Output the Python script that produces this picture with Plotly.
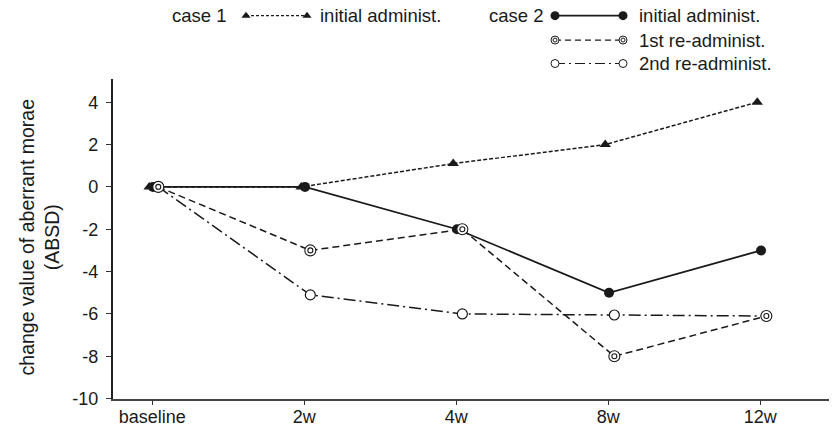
import plotly.graph_objects as go

# ---- data ----
categories = ["baseline", "2w", "4w", "8w", "12w"]
case1_initial = [0, 0, 1.1, 2, 4]
case2_initial = [0, 0, -2, -5, -3]
case2_1st = [0, -3, -2, -8, -6.1]
case2_2nd = [0, -5.1, -6, -6.05, -6.1]
y_ticks = [-10, -8, -6, -4, -2, 0, 2, 4]
y_ticktext = ["-10", "-8", "-6", "-4", "-2", "0", "2", "4"]

W, H = 832, 435
FONT = "Liberation Sans, Arial, sans-serif"
FS = 18
FS_LEG = 18.5
FS_TITLE = 19.5
BLACK = "#1a1a1a"

xpos = list(range(len(categories)))


def shift(off):
    return [x + off for x in xpos]


fig = go.Figure()

# case 2, 2nd re-administration (dash-dot, open circles)
fig.add_trace(go.Scatter(
    x=shift(0.04), y=case2_2nd, mode="lines+markers",
    line=dict(color=BLACK, width=1.5, dash="12px,4px,2px,4px"),
    marker=dict(symbol="circle", size=10, color="white", line=dict(color=BLACK, width=1.2)),
    showlegend=False))

# case 1 initial (short dashes, triangles)
fig.add_trace(go.Scatter(
    x=shift(-0.02), y=case1_initial, mode="lines+markers",
    line=dict(color=BLACK, width=1.5, dash="4px,2px"),
    marker=dict(symbol="triangle-up", size=10, color=BLACK),
    showlegend=False))

# case 2 initial (solid, filled circles)
fig.add_trace(go.Scatter(
    x=shift(0.005), y=case2_initial, mode="lines+markers",
    line=dict(color=BLACK, width=1.8),
    marker=dict(symbol="circle", size=10, color=BLACK),
    showlegend=False))

# case 2, 1st re-administration (dashes, double circles)
fig.add_trace(go.Scatter(
    x=shift(0.04), y=case2_1st, mode="lines+markers",
    line=dict(color=BLACK, width=1.5, dash="7px,4px"),
    marker=dict(symbol="circle", size=11, color="white", line=dict(color=BLACK, width=1.1)),
    showlegend=False))
fig.add_trace(go.Scatter(
    x=shift(0.04), y=case2_1st, mode="markers",
    marker=dict(symbol="circle", size=5, color="white", line=dict(color=BLACK, width=1.1)),
    showlegend=False, hoverinfo="skip"))

# ---- custom legend drawn on a pixel-coordinate overlay ----
def legend_sample(x0, x1, y, line, marker, inner=None):
    fig.add_trace(go.Scatter(
        x=[x0, x1], y=[y, y], mode="lines+markers", xaxis="x2", yaxis="y2",
        line=line, marker=marker, showlegend=False, hoverinfo="skip"))
    if inner:
        fig.add_trace(go.Scatter(
            x=[x0, x1], y=[y, y], mode="markers", xaxis="x2", yaxis="y2",
            marker=inner, showlegend=False, hoverinfo="skip"))

legend_sample(246, 307, 16, dict(color=BLACK, width=1.2, dash="3px,2px"),
              dict(symbol="triangle-up", size=8, color=BLACK))
legend_sample(555, 623, 16, dict(color=BLACK, width=1.6),
              dict(symbol="circle", size=9, color=BLACK))
legend_sample(555, 623, 41, dict(color=BLACK, width=1.2, dash="6px,4px"),
              dict(symbol="circle", size=8, color="white", line=dict(color=BLACK, width=1)),
              dict(symbol="circle", size=4, color="white", line=dict(color=BLACK, width=1)))
legend_sample(555, 623, 65, dict(color=BLACK, width=1.2, dash="10px,4px,2px,4px"),
              dict(symbol="circle", size=8, color="white", line=dict(color=BLACK, width=1)))

annotations = []
def label(x, y, text):
    annotations.append(dict(x=x, y=y, xref="x2", yref="y2", text=text, showarrow=False,
                            xanchor="left", yanchor="middle",
                            font=dict(family=FONT, size=FS_LEG, color=BLACK)))

label(170, 16, "case 1")
label(318, 16, "initial administ.")
label(487, 16, "case 2")
label(637, 16, "initial administ.")
label(637, 41, "1st re-administ.")
label(637, 65, "2nd re-administ.")

annotations.append(dict(x=39 / W, y=(H - 243) / H, xref="paper", yref="paper",
                        text="change value of aberrant morae<br>(ABSD)", showarrow=False,
                        textangle=-90, xanchor="center", yanchor="middle",
                        font=dict(family=FONT, size=FS_TITLE, color=BLACK)))

fig.update_layout(
    width=W, height=H,
    margin=dict(l=0, r=0, t=0, b=0),
    paper_bgcolor="white", plot_bgcolor="rgba(0,0,0,0)",
    font=dict(family=FONT, size=FS, color=BLACK),
    annotations=annotations,
    xaxis=dict(domain=[112.7 / W, 829 / W], range=[-0.26, 4.452],
               tickvals=xpos, ticktext=categories, ticks="outside", ticklen=5,
               tickcolor="#333", ticklabelstandoff=-4,
               showline=True, linecolor="#444", linewidth=1.5,
               showgrid=False, zeroline=False, anchor="y"),
    yaxis=dict(domain=[(H - 408) / H, (H - 81) / H], range=[-10, 5.09],
               tickvals=y_ticks, ticktext=y_ticktext, ticks="outside", ticklen=5,
               tickcolor="#333", ticklabelstandoff=4,
               showline=True, linecolor="#222", linewidth=1.5,
               showgrid=False, zeroline=False, anchor="x"),
    xaxis2=dict(domain=[0, 1], range=[0, W], visible=False, anchor="y2", fixedrange=True),
    yaxis2=dict(domain=[0, 1], range=[H, 0], visible=False, anchor="x2", fixedrange=True),
    showlegend=False,
)

fig.write_html("out.html", config={"displayModeBar": False},
               post_script="document.body.style.margin='0';")
